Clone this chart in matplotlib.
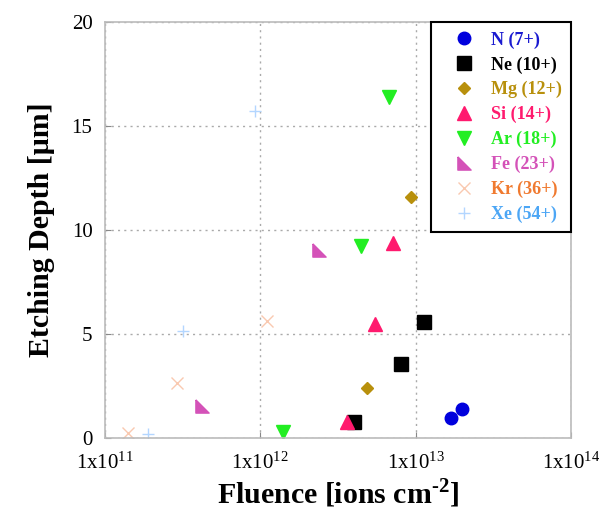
import numpy as np
import matplotlib.pyplot as plt

plt.rcParams['font.family'] = ['Liberation Serif', 'DejaVu Serif']
plt.rcParams['mathtext.fontset'] = 'custom'
plt.rcParams['mathtext.rm'] = 'Liberation Serif'
plt.rcParams['mathtext.bf'] = 'Liberation Serif:bold'

# data: fluence [ions cm^-2], etching depth [um]
ions = ['N (7+)', 'Ne (10+)', 'Mg (12+)', 'Si (14+)', 'Ar (18+)', 'Fe (23+)', 'Kr (36+)', 'Xe (54+)']
fluence = [
    [1.7e13, 2.0e13],
    [4.0e12, 8.0e12, 1.14e13],
    [4.9e12, 9.4e12],
    [3.6e12, 5.5e12, 7.1e12],
    [1.39e12, 4.43e12, 6.77e12],
    [4.2e11, 2.39e12],
    [1.4e11, 2.9e11, 1.1e12],
    [1.88e11, 3.19e11, 9.25e11],
]
depth = [
    [0.95, 1.38],
    [0.73, 3.53, 5.56],
    [2.37, 11.57],
    [0.74, 5.47, 9.35],
    [0.28, 9.24, 16.39],
    [1.52, 9.03],
    [0.23, 2.64, 5.6],
    [0.17, 5.15, 15.73],
]
xticks = [1e11, 1e12, 1e13, 1e14]
xtick_labels = [r'$\mathregular{1x10^{11}}$', r'$\mathregular{1x10^{12}}$',
                r'$\mathregular{1x10^{13}}$', r'$\mathregular{1x10^{14}}$']
yticks = [0, 5, 10, 15, 20]

# styling
rtri = [(-1, 1), (-1, -1), (1, -1), (-1, 1)]
markers = ['o', 's', 'D', '^', 'v', rtri, 'x', '+']
sizes = [9, 9.5, 6.5, 9.5, 9.5, 9.5, 9, 9]
mcolors = ['#0000dd', '#000000', '#b8900c', '#ff1a6e', '#22ee22', '#d452b8', '#f9c9b0', '#b3d6ff']
tcolors = ['#1a1ad0', '#000000', '#b8900c', '#ff1a6e', '#22ee22', '#d452b8', '#f07a30', '#4ca6f5']

fig = plt.figure(figsize=(6.08, 5.11), dpi=100)
ax = fig.add_axes([0.1727, 0.1438, 0.7663, 0.8126])

for i in range(len(ions)):
    ax.plot(fluence[i], depth[i], linestyle='none', marker=markers[i], ms=sizes[i],
            color=mcolors[i], mec=mcolors[i], mew=1.0, label=ions[i])

ax.set_xscale('log')
ax.set_xlim(1e11, 1e14)
ax.set_ylim(0, 20)
ax.set_xticks(xticks)
ax.set_xticklabels(xtick_labels)
ax.minorticks_off()
ax.set_yticks(yticks)
ax.tick_params(direction='in', length=4, color='#888888', labelsize=15)
ax.tick_params(axis='x', pad=11)
ax.tick_params(axis='y', pad=9)
ax.grid(True, color='#aaaaaa', linestyle=(0, (1.5, 3)), linewidth=1)
for s in ax.spines.values():
    s.set_color('#bbbbbb')
    s.set_linewidth(1.2)

ax.set_xlabel(r'Fluence [ions cm$^{\mathbf{\text{-}2}}$]', fontsize=21.5, fontweight='bold', labelpad=2)
ax.set_ylabel('Etching Depth [\u03bcm]', fontsize=21.5, fontweight='bold', labelpad=12)

leg = ax.legend(loc='upper right', bbox_to_anchor=(1.0, 1.0), borderaxespad=0, fancybox=False,
                edgecolor='black', framealpha=1, prop={'weight': 'bold', 'size': 13},
                handletextpad=0.2, labelspacing=0.42, borderpad=0.5, handlelength=2.6)
leg.get_frame().set_linewidth(1.5)
for t, c in zip(leg.get_texts(), tcolors):
    t.set_color(c)

fig.savefig('out.png', dpi=100)
